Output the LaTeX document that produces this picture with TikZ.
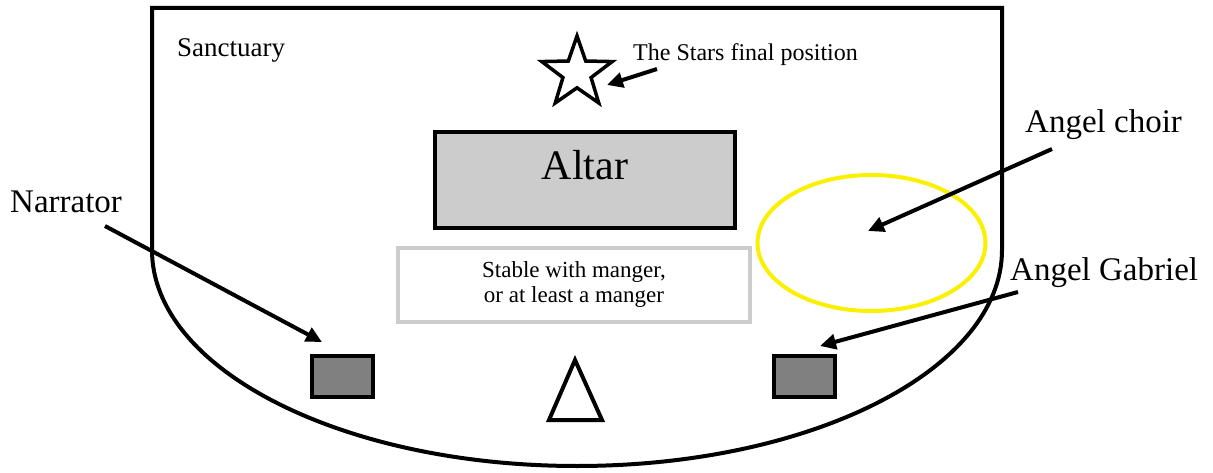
\documentclass[tikz,border=0pt]{standalone}
\usepackage{fontspec}
\setmainfont{Liberation Serif}
\usetikzlibrary{shapes.geometric,arrows.meta}
\definecolor{altargray}{RGB}{204,204,204}
\definecolor{persongray}{RGB}{128,128,128}
\definecolor{stablegray}{RGB}{204,204,204}
\definecolor{choiryellow}{RGB}{250,240,0}
\begin{document}
\begin{tikzpicture}[x=1pt,y=1pt,
  outline/.style={line width=4pt},
  arr/.style={line width=4pt,-{Triangle[length=16pt,width=15pt]}},
  lbl/.style={anchor=base west,inner sep=0pt,font=\fontsize{33}{38}\selectfont},
  person/.style={draw,line width=4pt,fill=persongray,minimum width=61pt,minimum height=41pt,inner sep=0pt}]
\useasboundingbox (0,0) rectangle (1213,472);
\fill[white] (0,0) rectangle (1213,472);
% sanctuary outline
\draw[outline] (152,222) -- (152,464) -- (1002,464) -- (1002,222)
  arc[start angle=0,end angle=-180,x radius=425,y radius=216] -- cycle;
\node[anchor=base west,inner sep=0pt,font=\fontsize{27}{30}\selectfont] (sanct) at (177,415) {Sanctuary};
% star
\node[star,star points=5,star point ratio=2.5,draw,line width=3.5pt,minimum size=74pt,inner sep=0pt] (star) at (577,399) {};
\node[anchor=base west,inner sep=0pt,font=\fontsize{24}{28}\selectfont] (starlbl) at (633,411) {The Stars final position};
\coordinate (starfrom) at (657,403);
\coordinate (starto) at (607,387);
\draw[arr] (starfrom) -- (starto);
% altar
\node[draw,line width=4.5pt,fill=altargray,minimum width=300pt,minimum height=96pt,inner sep=0pt] (altar) at (585,292) {};
\node[anchor=base,inner sep=0pt,font=\fontsize{42}{46}\selectfont] (altarlbl) at (585,292) {Altar};
% stable
\node[draw=stablegray,line width=4pt,minimum width=352pt,minimum height=74pt,inner sep=0pt,align=center,font=\fontsize{23}{25}\selectfont] (stable) at (574,187) {Stable with manger,\\or at least a manger};
% triangle
\draw[outline,line join=miter] (575,112) -- (602,52) -- (549,52) -- cycle;
% narrator and gabriel
\node[person] (narr) at (342.5,95.5) {};
\node[person] (gab) at (804.5,96) {};
% choir
\node[ellipse,draw=choiryellow,line width=4pt,minimum width=228pt,minimum height=136pt,inner sep=0pt] (choir) at (871.5,229) {};
% labels
\node[lbl] (narrlbl) at (10,259) {Narrator};
\node[lbl] (choirlbl) at (1025,339) {Angel choir};
\node[lbl] (gablbl) at (1010,192) {Angel Gabriel};
\coordinate (narrfrom) at (105,246);
\coordinate (narrto) at (322,130);
\coordinate (choirfrom) at (1052,323);
\coordinate (choirto) at (868,241);
\coordinate (gabfrom) at (1018,180);
\coordinate (gabto) at (820,126);
\draw[arr] (narrfrom) -- (narrto);
\draw[arr] (choirfrom) -- (choirto);
\draw[arr] (gabfrom) -- (gabto);
\end{tikzpicture}
\end{document}
